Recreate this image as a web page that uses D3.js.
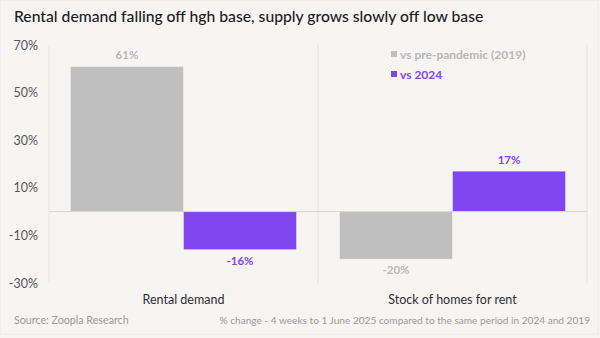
<!DOCTYPE html>
<html>
<head>
<meta charset="utf-8">
<script src="https://cdn.jsdelivr.net/npm/d3@7"></script>
<style>
  html, body { margin: 0; padding: 0; background: #f6f5f3; }
  svg { display: block; font-family: Lato, "DejaVu Sans", sans-serif; }
</style>
</head>
<body>
<div id="chart"></div>
<script>
const categories = ["Rental demand", "Stock of homes for rent"];
const seriesNames = ["vs pre-pandemic (2019)", "vs 2024"];
const vsPrePandemic = [61, -20];
const vs2024 = [-16, 17];
const yTicks = [70, 50, 30, 10, -10, -30];

const W = 600, H = 338;
const margin = { top: 45, right: 13, bottom: 55, left: 49 };
const colors = ["#bfbfbf", "#8047f1"];
const labelColors = ["#b8b8b8", "#7f45ee"];

const svg = d3.select("#chart").append("svg")
    .attr("width", W)
    .attr("height", H);

svg.append("rect")
    .attr("x", 0).attr("y", 0)
    .attr("width", W - 2).attr("height", H - 4)
    .attr("fill", "#f6f5f3")
    .attr("stroke", "#ebeae8")
    .attr("stroke-width", 1);

// title
svg.append("text")
    .attr("x", 14)
    .attr("y", 22)
    .attr("font-size", 15.7)
    .attr("font-weight", 500)
    .attr("fill", "#1d1d1f")
    .text("Rental demand falling off hgh base, supply grows slowly off low base");

const x0 = d3.scaleBand()
    .domain(categories)
    .range([margin.left, W - margin.right])
    .paddingInner(0)
    .paddingOuter(0);

const x1 = d3.scaleBand()
    .domain(seriesNames)
    .range([0, x0.bandwidth()])
    .paddingOuter(0.19)
    .paddingInner(0);

const y = d3.scaleLinear()
    .domain([-30, 70])
    .range([H - margin.bottom, margin.top]);

// vertical separators
const seps = [margin.left].concat(categories.map(c => x0(c) + x0.bandwidth()));
svg.append("g").selectAll("line")
    .data(seps)
    .enter()
    .append("line")
    .attr("x1", d => d).attr("x2", d => d)
    .attr("y1", y(70)).attr("y2", y(-30))
    .attr("stroke", "#e6e5e3")
    .attr("stroke-width", 1);

// y axis labels
const yAxis = d3.axisLeft(y)
    .tickValues(yTicks)
    .tickFormat(d => d + "%")
    .tickSize(0)
    .tickPadding(11);

const yG = svg.append("g")
    .attr("transform", `translate(${margin.left},0)`)
    .call(yAxis);
yG.select(".domain").remove();
yG.selectAll("text")
    .attr("font-size", 12.5)
    .attr("fill", "#55555a")
    .attr("font-family", "Lato, sans-serif");

// data
const rows = categories.map((c, i) => ({
    category: c,
    values: [
        { series: seriesNames[0], value: vsPrePandemic[i], s: 0 },
        { series: seriesNames[1], value: vs2024[i], s: 1 }
    ]
}));

const groups = svg.append("g").selectAll("g")
    .data(rows)
    .enter()
    .append("g")
    .attr("transform", d => `translate(${x0(d.category)},0)`);

groups.selectAll("rect")
    .data(d => d.values)
    .enter()
    .append("rect")
    .attr("x", d => x1(d.series))
    .attr("width", x1.bandwidth())
    .attr("y", d => y(Math.max(0, d.value)))
    .attr("height", d => Math.abs(y(d.value) - y(0)))
    .attr("fill", d => colors[d.s])
    .attr("stroke", "#ffffff")
    .attr("stroke-opacity", 0.5)
    .attr("stroke-width", 0.8);

groups.selectAll("text.val")
    .data(d => d.values)
    .enter()
    .append("text")
    .attr("class", "val")
    .attr("x", d => x1(d.series) + x1.bandwidth() / 2)
    .attr("y", d => d.value >= 0 ? y(d.value) - 7 : y(d.value) + 15)
    .attr("text-anchor", "middle")
    .attr("font-size", 11.5)
    .attr("font-weight", 700)
    .attr("fill", d => labelColors[d.s])
    .text(d => d.value + "%");

// zero line
svg.append("line")
    .attr("x1", margin.left).attr("x2", W - margin.right)
    .attr("y1", y(0)).attr("y2", y(0))
    .attr("stroke", "#d6d5d3")
    .attr("stroke-width", 1);

// category labels
svg.append("g").selectAll("text")
    .data(categories)
    .enter()
    .append("text")
    .attr("x", d => x0(d) + x0.bandwidth() / 2)
    .attr("y", 304)
    .attr("text-anchor", "middle")
    .attr("font-size", 12.5)
    .attr("fill", "#2f2f33")
    .text(d => d);

// legend
const legend = svg.append("g")
    .attr("transform", "translate(391,0)");
const legendItems = legend.selectAll("g")
    .data(seriesNames)
    .enter()
    .append("g")
    .attr("transform", (d, i) => `translate(0,${55 + i * 20})`);
legendItems.append("rect")
    .attr("x", 0).attr("y", -4)
    .attr("width", 6).attr("height", 6)
    .attr("fill", (d, i) => colors[i]);
legendItems.append("text")
    .attr("x", 9)
    .attr("y", 0)
    .attr("dy", "0.35em")
    .attr("font-size", 12)
    .attr("font-weight", 700)
    .attr("fill", (d, i) => labelColors[i])
    .text(d => d);

// footer
svg.append("text")
    .attr("x", 14)
    .attr("y", 324)
    .attr("font-size", 10.7)
    .attr("fill", "#9a9a9c")
    .text("Source: Zoopla Research");

svg.append("text")
    .attr("x", 590)
    .attr("y", 324)
    .attr("text-anchor", "end")
    .attr("font-size", 10.1)
    .attr("fill", "#9a9a9c")
    .text("% change - 4 weeks to 1 June 2025 compared to the same period in 2024 and 2019");
</script>
</body>
</html>
